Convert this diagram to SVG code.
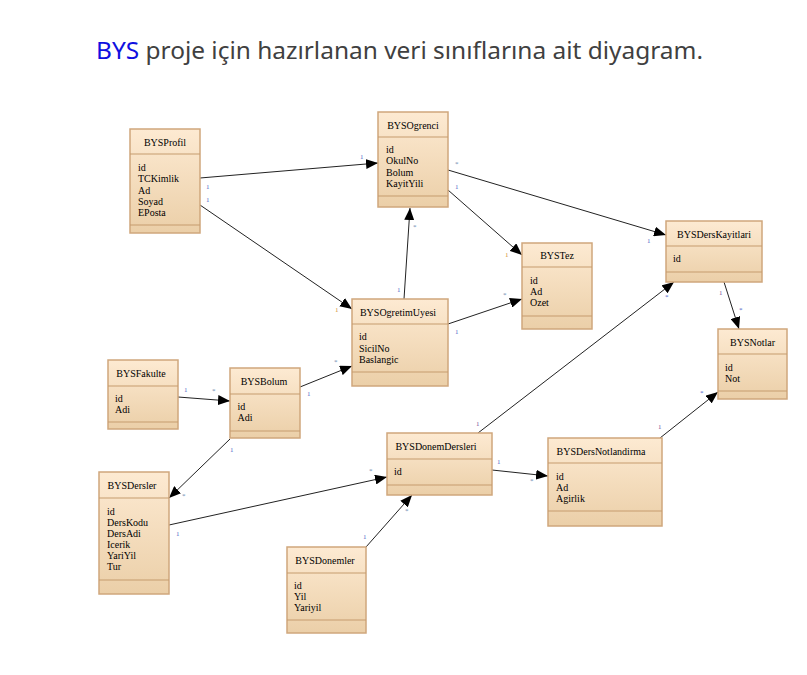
<svg xmlns="http://www.w3.org/2000/svg" width="807" height="675" viewBox="0 0 807 675">
<defs>
<linearGradient id="g" x1="0" y1="0" x2="0" y2="1">
<stop offset="0" stop-color="#fdead2"/>
<stop offset="1" stop-color="#ebcfa8"/>
</linearGradient>
<marker id="ah" markerUnits="userSpaceOnUse" markerWidth="12" markerHeight="10" refX="12" refY="5" orient="auto">
<path d="M0,0 L12,5 L0,10 z" fill="#000"/>
</marker>
<style>
.box{fill:url(#g);stroke:#cfa77c;stroke-width:1.5}
.div{stroke:#c59c6e;stroke-width:1.2}
.nm{font-family:"Liberation Serif",serif;font-size:10px;fill:#000;text-anchor:middle}
.at{font-family:"Liberation Serif",serif;font-size:10px;fill:#000}
.ln{stroke:#222;stroke-width:1;fill:none;marker-end:url(#ah)}
.m{font-family:"Liberation Serif",serif;font-size:7px}
.b{fill:#4a5fc8}
.p{fill:#7a4a9a}
.o{fill:#d0903a}
.g{fill:#6a8ab0}
.t{font-family:"Noto Sans","Open Sans",sans-serif;font-size:24px;fill:#404040}
</style>
</defs>
<rect width="807" height="675" fill="#fff"/>
<text class="t" x="96" y="59" textLength="607" lengthAdjust="spacingAndGlyphs"><tspan fill="#1010e0">BYS</tspan> proje için hazırlanan veri sınıflarına ait diyagram.</text>

<g id="connectors">
<line class="ln" x1="200" y1="178" x2="378" y2="163"/>
<line class="ln" x1="200" y1="205" x2="352" y2="309"/>
<line class="ln" x1="404" y1="299" x2="410" y2="208"/>
<line class="ln" x1="448" y1="190" x2="522" y2="255"/>
<line class="ln" x1="448" y1="170" x2="666" y2="235"/>
<line class="ln" x1="448" y1="324" x2="522" y2="299"/>
<line class="ln" x1="724" y1="282" x2="739" y2="329"/>
<line class="ln" x1="478" y1="433" x2="674" y2="282"/>
<line class="ln" x1="660" y1="438" x2="718" y2="392"/>
<line class="ln" x1="178" y1="397" x2="230" y2="401"/>
<line class="ln" x1="300" y1="387" x2="352" y2="366"/>
<line class="ln" x1="230" y1="439" x2="169" y2="498"/>
<line class="ln" x1="169" y1="525" x2="387" y2="477"/>
<line class="ln" x1="366" y1="547" x2="412" y2="495"/>
<line class="ln" x1="492" y1="470" x2="548" y2="476"/>
<text class="m b" x="360" y="159">1</text>
<text class="m b" x="206" y="189">1</text>
<text class="m b" x="206" y="202">1</text>
<text class="m o" x="335" y="312">1</text>
<text class="m g" x="413" y="229">*</text>
<text class="m b" x="397" y="292">1</text>
<text class="m b" x="455" y="189">1</text>
<text class="m o" x="505" y="257">1</text>
<text class="m g" x="455" y="166">*</text>
<text class="m b" x="647" y="243">1</text>
<text class="m g" x="503" y="297">*</text>
<text class="m b" x="455" y="334">1</text>
<text class="m p" x="719" y="295">1</text>
<text class="m b" x="739" y="312">*</text>
<text class="m p" x="476" y="426">1</text>
<text class="m b" x="665" y="299">*</text>
<text class="m p" x="658" y="429">1</text>
<text class="m b" x="700" y="395">*</text>
<text class="m b" x="184" y="392">1</text>
<text class="m g" x="212" y="393">*</text>
<text class="m b" x="307" y="396">1</text>
<text class="m g" x="334" y="364">*</text>
<text class="m b" x="230" y="452">1</text>
<text class="m g" x="182" y="498">*</text>
<text class="m b" x="176" y="536">1</text>
<text class="m g" x="369" y="473">*</text>
<text class="m b" x="363" y="539">1</text>
<text class="m g" x="405" y="513">*</text>
<text class="m b" x="497" y="464">1</text>
<text class="m g" x="530" y="483">*</text>
</g>

<g id="BYSProfil">
<rect class="box" x="130" y="129" width="70" height="104"/>
<line class="div" x1="130" y1="154" x2="200" y2="154"/><line class="div" x1="130" y1="225" x2="200" y2="225"/>
<text class="nm" x="165" y="146">BYSProfil</text>
<text class="at" x="138" y="171">id</text><text class="at" x="138" y="182">TCKimlik</text><text class="at" x="138" y="193.5">Ad</text><text class="at" x="138" y="204.5">Soyad</text><text class="at" x="138" y="215.5">EPosta</text>
</g>

<g id="BYSOgrenci">
<rect class="box" x="378" y="112" width="70" height="95"/>
<line class="div" x1="378" y1="137" x2="448" y2="137"/><line class="div" x1="378" y1="196" x2="448" y2="196"/>
<text class="nm" x="413" y="129">BYSOgrenci</text>
<text class="at" x="386" y="153">id</text><text class="at" x="386" y="164">OkulNo</text><text class="at" x="386" y="175.5">Bolum</text><text class="at" x="386" y="186.5">KayitYili</text>
</g>

<g id="BYSTez">
<rect class="box" x="522" y="243" width="70" height="86"/>
<line class="div" x1="522" y1="267" x2="592" y2="267"/><line class="div" x1="522" y1="316" x2="592" y2="316"/>
<text class="nm" x="557" y="259">BYSTez</text>
<text class="at" x="530" y="283.5">id</text><text class="at" x="530" y="294.5">Ad</text><text class="at" x="530" y="306">Ozet</text>
</g>

<g id="BYSDersKayitlari">
<rect class="box" x="666" y="221" width="96" height="61"/>
<line class="div" x1="666" y1="246" x2="762" y2="246"/><line class="div" x1="666" y1="272" x2="762" y2="272"/>
<text class="nm" x="714" y="238">BYSDersKayitlari</text>
<text class="at" x="673" y="262">id</text>
</g>

<g id="BYSNotlar">
<rect class="box" x="718" y="329" width="69" height="70"/>
<line class="div" x1="718" y1="354" x2="787" y2="354"/><line class="div" x1="718" y1="391" x2="787" y2="391"/>
<text class="nm" x="752.5" y="346">BYSNotlar</text>
<text class="at" x="725" y="370.5">id</text><text class="at" x="725" y="381.5">Not</text>
</g>

<g id="BYSOgretimUyesi">
<rect class="box" x="352" y="299" width="96" height="87"/>
<line class="div" x1="352" y1="324" x2="448" y2="324"/><line class="div" x1="352" y1="372" x2="448" y2="372"/>
<text class="nm" x="398" y="316">BYSOgretimUyesi</text>
<text class="at" x="359" y="340">id</text><text class="at" x="359" y="351.5">SicilNo</text><text class="at" x="359" y="362.5">Baslangic</text>
</g>

<g id="BYSFakulte">
<rect class="box" x="108" y="360" width="70" height="69"/>
<line class="div" x1="108" y1="386" x2="178" y2="386"/><line class="div" x1="108" y1="422" x2="178" y2="422"/>
<text class="nm" x="141" y="377">BYSFakulte</text>
<text class="at" x="115" y="401.5">id</text><text class="at" x="115" y="412.5">Adi</text>
</g>

<g id="BYSBolum">
<rect class="box" x="230" y="368" width="70" height="70"/>
<line class="div" x1="230" y1="394" x2="300" y2="394"/><line class="div" x1="230" y1="431" x2="300" y2="431"/>
<text class="nm" x="264" y="385">BYSBolum</text>
<text class="at" x="237.5" y="410">id</text><text class="at" x="237.5" y="421">Adi</text>
</g>

<g id="BYSDersler">
<rect class="box" x="99" y="472" width="70" height="122"/>
<line class="div" x1="99" y1="498" x2="169" y2="498"/><line class="div" x1="99" y1="580" x2="169" y2="580"/>
<text class="nm" x="132" y="489">BYSDersler</text>
<text class="at" x="107" y="514.5">id</text><text class="at" x="107" y="525.5">DersKodu</text><text class="at" x="107" y="536.5">DersAdi</text><text class="at" x="107" y="547.5">Icerik</text><text class="at" x="107" y="559">YariYil</text><text class="at" x="107" y="570">Tur</text>
</g>

<g id="BYSDonemler">
<rect class="box" x="287" y="547" width="79" height="86"/>
<line class="div" x1="287" y1="573" x2="366" y2="573"/><line class="div" x1="287" y1="620" x2="366" y2="620"/>
<text class="nm" x="325" y="564">BYSDonemler</text>
<text class="at" x="294" y="589">id</text><text class="at" x="294" y="600">Yil</text><text class="at" x="294" y="611">Yariyil</text>
</g>

<g id="BYSDonemDersleri">
<rect class="box" x="387" y="433" width="105" height="62"/>
<line class="div" x1="387" y1="459" x2="492" y2="459"/><line class="div" x1="387" y1="485" x2="492" y2="485"/>
<text class="nm" x="436" y="450">BYSDonemDersleri</text>
<text class="at" x="394" y="475">id</text>
</g>

<g id="BYSDersNotlandirma">
<rect class="box" x="548" y="438" width="114" height="88"/>
<line class="div" x1="548" y1="463" x2="662" y2="463"/><line class="div" x1="548" y1="511" x2="662" y2="511"/>
<text class="nm" x="601" y="455">BYSDersNotlandirma</text>
<text class="at" x="556" y="479.5">id</text><text class="at" x="556" y="490.5">Ad</text><text class="at" x="556" y="501.5">Agirlik</text>
</g>
</svg>
